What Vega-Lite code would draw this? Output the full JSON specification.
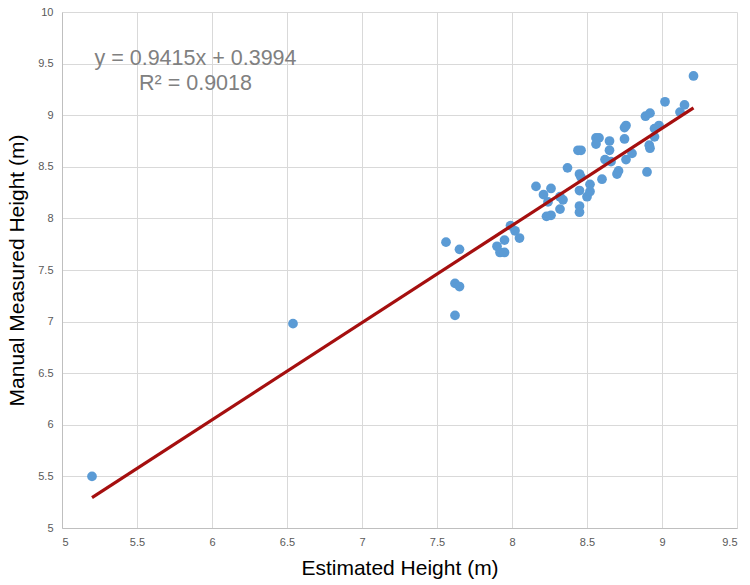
{
  "$schema": "https://vega.github.io/schema/vega-lite/v6.json",
  "description": "Estimated vs manual measured height with linear trend line.",
  "width": 675,
  "height": 516,
  "autosize": "none",
  "padding": {"left": 62, "top": 12, "right": 13, "bottom": 57},
  "config": {
    "font": "Liberation Sans",
    "view": {"stroke": null},
    "axis": {
      "gridColor": "#d9d9d9",
      "domainColor": "#bfbfbf",
      "ticks": false,
      "labelColor": "#595959",
      "labelFontSize": 11,
      "titleFontSize": 21,
      "titleFontWeight": "normal",
      "titleColor": "#000000"
    }
  },
  "datasets": {
    "points": [
      {"est": 5.20, "man": 5.50},
      {"est": 6.54, "man": 6.98},
      {"est": 7.56, "man": 7.77},
      {"est": 7.65, "man": 7.70},
      {"est": 7.62, "man": 7.37},
      {"est": 7.65, "man": 7.34},
      {"est": 7.62, "man": 7.06},
      {"est": 7.90, "man": 7.73},
      {"est": 7.95, "man": 7.79},
      {"est": 7.92, "man": 7.67},
      {"est": 7.95, "man": 7.67},
      {"est": 7.99, "man": 7.93},
      {"est": 8.02, "man": 7.88},
      {"est": 8.05, "man": 7.81},
      {"est": 8.16, "man": 8.31},
      {"est": 8.26, "man": 8.29},
      {"est": 8.21, "man": 8.23},
      {"est": 8.24, "man": 8.16},
      {"est": 8.23, "man": 8.02},
      {"est": 8.26, "man": 8.03},
      {"est": 8.32, "man": 8.09},
      {"est": 8.32, "man": 8.21},
      {"est": 8.34, "man": 8.18},
      {"est": 8.37, "man": 8.49},
      {"est": 8.45, "man": 8.43},
      {"est": 8.46, "man": 8.40},
      {"est": 8.45, "man": 8.27},
      {"est": 8.45, "man": 8.12},
      {"est": 8.45, "man": 8.06},
      {"est": 8.50, "man": 8.21},
      {"est": 8.52, "man": 8.26},
      {"est": 8.52, "man": 8.33},
      {"est": 8.44, "man": 8.66},
      {"est": 8.46, "man": 8.66},
      {"est": 8.56, "man": 8.78},
      {"est": 8.58, "man": 8.78},
      {"est": 8.56, "man": 8.72},
      {"est": 8.60, "man": 8.38},
      {"est": 8.62, "man": 8.57},
      {"est": 8.66, "man": 8.55},
      {"est": 8.65, "man": 8.75},
      {"est": 8.65, "man": 8.66},
      {"est": 8.70, "man": 8.43},
      {"est": 8.71, "man": 8.46},
      {"est": 8.76, "man": 8.57},
      {"est": 8.80, "man": 8.63},
      {"est": 8.75, "man": 8.77},
      {"est": 8.75, "man": 8.88},
      {"est": 8.76, "man": 8.90},
      {"est": 8.90, "man": 8.45},
      {"est": 8.915, "man": 8.71},
      {"est": 8.92, "man": 8.68},
      {"est": 8.95, "man": 8.79},
      {"est": 8.95, "man": 8.87},
      {"est": 8.98, "man": 8.90},
      {"est": 8.89, "man": 8.99},
      {"est": 8.92, "man": 9.02},
      {"est": 9.12, "man": 9.03},
      {"est": 9.15, "man": 9.10},
      {"est": 9.02, "man": 9.13},
      {"est": 9.21, "man": 9.38}
    ],
    "trend": [
      {"est": 5.20, "man": 5.295},
      {"est": 9.21, "man": 9.071}
    ],
    "labels": [
      {"est": 5.89, "man": 9.54, "text": "y = 0.9415x + 0.3994"},
      {"est": 5.89, "man": 9.30, "text": "R² = 0.9018"}
    ]
  },
  "layer": [
    {
      "data": {"name": "points"},
      "mark": {"type": "circle", "size": 95, "color": "#5b9bd5", "opacity": 1},
      "encoding": {
        "x": {
          "field": "est",
          "type": "quantitative",
          "title": "Estimated Height (m)",
          "scale": {"domain": [5, 9.5], "nice": false, "zero": false},
          "axis": {"values": [5, 5.5, 6, 6.5, 7, 7.5, 8, 8.5, 9, 9.5], "format": "~g", "labelPadding": 8, "titlePadding": 10}
        },
        "y": {
          "field": "man",
          "type": "quantitative",
          "title": "Manual Measured Height (m)",
          "scale": {"domain": [5, 10], "nice": false, "zero": false},
          "axis": {"values": [5, 5.5, 6, 6.5, 7, 7.5, 8, 8.5, 9, 9.5, 10], "format": "~g", "labelPadding": 9, "titlePadding": 10}
        }
      }
    },
    {
      "data": {"name": "trend"},
      "mark": {"type": "line", "color": "#a50f0f", "strokeWidth": 3.2},
      "encoding": {
        "x": {"field": "est", "type": "quantitative"},
        "y": {"field": "man", "type": "quantitative"}
      }
    },
    {
      "data": {"name": "labels"},
      "mark": {"type": "text", "fontSize": 21.5, "color": "#808080", "align": "center", "baseline": "middle"},
      "encoding": {
        "x": {"field": "est", "type": "quantitative"},
        "y": {"field": "man", "type": "quantitative"},
        "text": {"field": "text"}
      }
    }
  ]
}
